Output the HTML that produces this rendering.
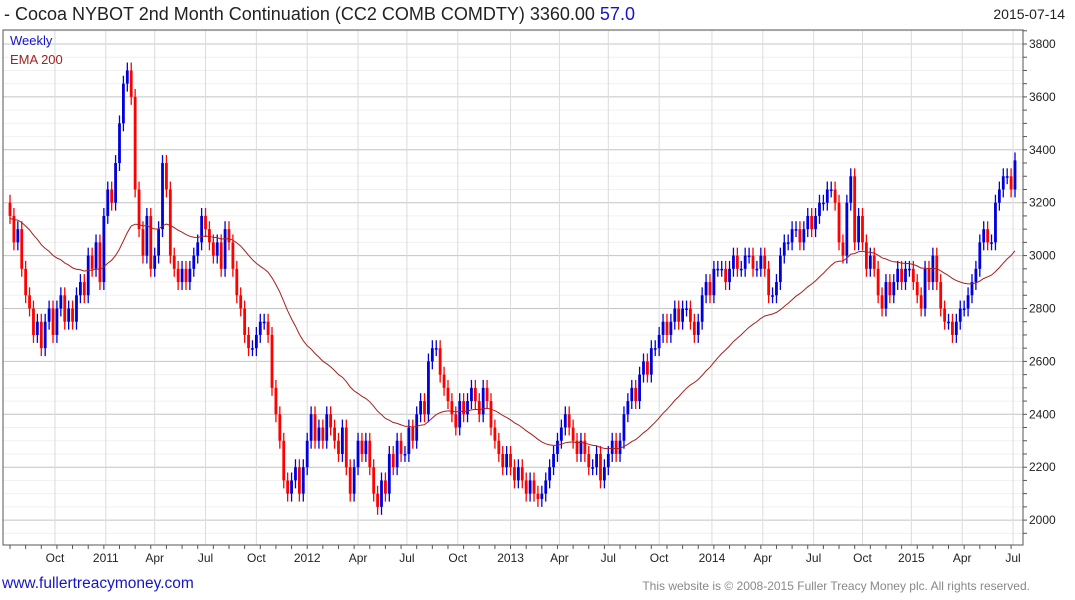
<!DOCTYPE html>
<html><head><meta charset="utf-8">
<style>
body{margin:0;width:1075px;height:600px;background:#fff;font-family:"Liberation Sans",sans-serif;overflow:hidden;position:relative}
.t{position:absolute;white-space:nowrap}
</style></head><body>
<div class="t" style="left:4px;top:4px;font-size:18px;color:#222">- Cocoa NYBOT 2nd Month Continuation (CC2 COMB COMDTY) 3360.00 <span style="color:#1515c8">57.0</span></div>
<div class="t" style="right:10px;top:6px;font-size:14px;color:#222">2015-07-14</div>
<svg id="c" width="1075" height="600" style="position:absolute;left:0;top:0"></svg>
<div class="t" style="left:2px;top:575px;font-size:15.5px;color:#1515c8">www.fullertreacymoney.com</div>
<div class="t" style="right:45px;top:579px;font-size:12px;color:#888">This website is © 2008-2015 Fuller Treacy Money plc. All rights reserved.</div>
<script>
const closes=[3150,3050,3100,2950,2850,2800,2700,2750,
2650,2750,2800,2700,2800,2850,2750,2800,2750,
2850,2900,2850,3000,2950,3050,
2900,3150,3250,3200,
3350,3500,3650,3700,3600,
3250,3100,3000,3150,2950,3000,3100,3350,
3250,3000,2950,2900,2950,2900,2950,3000,3050,3150,
3100,3050,3000,3050,2950,3100,3050,2950,
2850,2800,2700,2650,2650,2700,2750,2750,2700,
2500,2400,2300,2150,2100,2150,2200,2100,
2200,2300,2400,2300,2350,2300,2400,2350,2300,2250,2350,2200,2100,
2200,2300,2250,2300,2200,2100,2050,2150,2100,2250,2200,2300,2250,2250,
2350,2300,2400,2450,2400,2600,2650,2650,
2550,2500,2450,2400,2350,2450,2400,2450,2500,2450,2400,2500,2450,2350,2300,2250,2200,2250,
2200,2150,2200,2150,2100,2150,2100,2080,2100,2150,2200,2250,2300,
2350,2400,2350,2300,2250,2300,2250,2200,2200,2250,2150,2200,
2250,2300,2250,2300,2400,2450,2500,2450,2550,2600,2550,2650,2650,2700,
2750,2700,2750,2800,2750,2800,2800,2750,2700,2750,2850,2900,2850,2950,
2950,2950,2900,2950,3000,2950,2950,3000,3000,2950,2950,3000,2950,2850,2850,2900,
3000,3050,3050,3100,3100,3050,3100,3150,3100,3150,3200,3200,3250,3250,3200,
3050,3000,3200,3300,3050,3150,3050,2950,3000,2950,
2850,2800,2900,2850,2900,2950,2900,2950,2950,2900,
2850,2800,2950,2900,3000,2900,2800,2750,2750,2700,2750,
2800,2800,2850,2900,2950,3050,3100,3050,3050,3200,3250,3300,3300,3250,3360];
const firstOpen=3200;
const emaSeed=3140;
const yTicks=[2000,2200,2400,2600,2800,3000,3200,3400,3600,3800];
const xLabels=["Oct","2011","Apr","Jul","Oct","2012","Apr","Jul","Oct","2013","Apr","Jul","Oct","2014","Apr","Jul","Oct","2015","Apr","Jul"];
const xLabelWeeks=[11.5,24.5,37,50,63,76,89,101.5,114.5,128,140.5,153,166,179.5,192.5,205.5,218,230.5,243.5,256.5];

const svg=document.getElementById('c');const NS='http://www.w3.org/2000/svg';
function el(t,a,p){const e=document.createElementNS(NS,t);for(const k in a)e.setAttribute(k,a[k]);(p||svg).appendChild(e);return e;}
const L=3,R=1023,T=30,B=545;
const y=p=>44+(3800-p)*52.9/200;
const x=i=>10+i*(1005/(closes.length-1));
for(let p=1950;p<=3850;p+=50){const g=el('line',{x1:L,x2:R,y1:y(p),y2:y(p),stroke:p%200==0?'#c4c4c4':'#f0f0f0','stroke-width':1});
}
xLabelWeeks.forEach((w,i)=>{const g=el('line',{x1:x(w),x2:x(w),y1:T,y2:B,stroke:'#dcdcdc','stroke-width':1});

const t=el('text',{x:x(w),y:562,'font-size':12,'text-anchor':'middle',fill:'#222','font-family':'Liberation Sans'});t.textContent=xLabels[i];
});
const f=el('rect',{x:L,y:T,width:R-L,height:B-T,fill:'none',stroke:'#555','stroke-width':1});

yTicks.forEach(p=>{const t=el('text',{x:1029,y:y(p)+4,'font-size':12,fill:'#222','font-family':'Liberation Sans'});t.textContent=p;
});
for(let p=1950;p<=3850;p+=50){const k=el('line',{x1:R,x2:R+4,y1:y(p),y2:y(p),stroke:'#555'});}
for(let i=0;i<closes.length;i+=4){const k=el('line',{x1:x(i),x2:x(i),y1:B,y2:B+4,stroke:'#555'});}
let prev=firstOpen;
closes.forEach((c,i)=>{const o=prev;prev=c;const up=c>=o;const col=up?'#0000dd':'#ff0000';
const hi=Math.max(o,c)+30,lo=Math.min(o,c)-30;
const g=el('g',{});
el('line',{x1:x(i),x2:x(i),y1:y(hi),y2:y(lo),stroke:col,'stroke-width':1.3},g);
el('rect',{x:x(i)-1.4,y:y(Math.max(o,c)),width:2.8,height:Math.max(1.5,Math.abs(y(o)-y(c))),fill:col},g);});
let e=emaSeed;const a=2/41;let d='';
closes.forEach((c,i)=>{e=e+a*(c-e);d+=(i?'L':'M')+x(i).toFixed(1)+','+y(e).toFixed(1);});
const pl=el('path',{d:d,fill:'none',stroke:'#a52020','stroke-width':1});
const l1=el('text',{x:10,y:45,'font-size':13,fill:'#1515c8','font-family':'Liberation Sans'});l1.textContent='Weekly';

const l2=el('text',{x:10,y:64,'font-size':13,fill:'#a52020','font-family':'Liberation Sans'});l2.textContent='EMA 200';

</script>
</body></html>
